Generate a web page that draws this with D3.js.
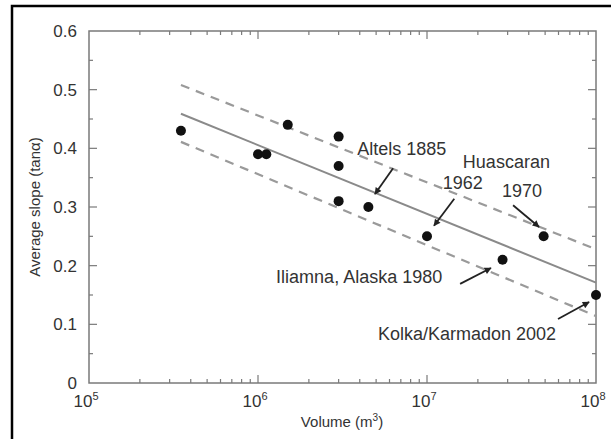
<!DOCTYPE html>
<html>
<head>
<meta charset="utf-8">
<script src="https://cdn.jsdelivr.net/npm/d3@7"></script>
<style>
  body { margin: 0; background: #fff; }
  svg { display: block; font-family: "Liberation Sans", Arial, sans-serif; }
</style>
</head>
<body>
<div id="chart"></div>
<script>
// observed events
const volumes = [3.5e5, 1.0e6, 1.12e6, 1.5e6, 3.0e6, 3.0e6, 3.0e6, 4.5e6, 1.0e7, 2.8e7, 4.9e7, 1.0e8];
const slopes  = [0.43, 0.39, 0.39, 0.44, 0.42, 0.37, 0.31, 0.30, 0.25, 0.21, 0.25, 0.15];

// regression line and its band
const fitVolumes = [3.5e5, 1.0e8];
const fitMid   = [0.459, 0.171];
const fitUpper = [0.508, 0.228];
const fitLower = [0.411, 0.114];

const yTicks = [0, 0.1, 0.2, 0.3, 0.4, 0.5, 0.6];
const xDecades = [5, 6, 7, 8];

// annotations: label text, label anchor, arrow start, arrow end (data units)
const labels = [
  { text: "Altels 1885",          lx: 3.86e6, ly: 0.399 },
  { text: "Huascaran",            lx: 1.63e7, ly: 0.378 },
  { text: "1962",                 lx: 1.24e7, ly: 0.341 },
  { text: "1970",                 lx: 2.78e7, ly: 0.327 },
  { text: "Iliamna, Alaska 1980", lx: 1.28e6, ly: 0.181 },
  { text: "Kolka/Karmadon 2002",  lx: 5.13e6, ly: 0.0835 }
];
const arrows = [
  { x1: 6.30e6, y1: 0.366, x2: 4.92e6, y2: 0.322 },
  { x1: 1.45e7, y1: 0.314, x2: 1.10e7, y2: 0.268 },
  { x1: 3.23e7, y1: 0.303, x2: 4.60e7, y2: 0.266 },
  { x1: 1.57e7, y1: 0.169, x2: 2.39e7, y2: 0.196 },
  { x1: 5.96e7, y1: 0.109, x2: 9.10e7, y2: 0.138 }
];

const W = 611, H = 439;
const svg = d3.select("#chart").append("svg").attr("width", W).attr("height", H);

// outer frame (cropped figure border)
svg.append("path")
  .attr("d", "M12,445 L12,6 L620,6")
  .attr("fill", "none").attr("stroke", "#000").attr("stroke-width", 2.5);

const x = d3.scaleLog().domain([1e5, 1e8]).range([89, 596]);
const y = d3.scaleLinear().domain([0, 0.6]).range([383, 31]);

const axisColor = "#7a7a7a";
const textColor = "#333";

// frame of plot
svg.append("rect")
  .attr("x", x.range()[0]).attr("y", y.range()[1])
  .attr("width", x.range()[1] - x.range()[0])
  .attr("height", y.range()[0] - y.range()[1])
  .attr("fill", "none").attr("stroke", axisColor).attr("stroke-width", 1.5);

// y ticks (inward, left and right) with minor ticks at 0.05
const yMinor = d3.range(0.05, 0.6, 0.1);
const g = svg.append("g").attr("stroke", axisColor).attr("stroke-width", 1.2);
yTicks.slice(1, -1).forEach(t => {
  g.append("line").attr("x1", x(1e5)).attr("x2", x(1e5) + 8).attr("y1", y(t)).attr("y2", y(t));
  g.append("line").attr("x1", x(1e8)).attr("x2", x(1e8) - 8).attr("y1", y(t)).attr("y2", y(t));
});
yMinor.forEach(t => {
  g.append("line").attr("x1", x(1e5)).attr("x2", x(1e5) + 4).attr("y1", y(t)).attr("y2", y(t));
  g.append("line").attr("x1", x(1e8)).attr("x2", x(1e8) - 4).attr("y1", y(t)).attr("y2", y(t));
});

// x ticks, log minor ticks (bottom and top)
x.ticks().forEach(v => {
  const major = Math.abs(Math.log10(v) - Math.round(Math.log10(v))) < 1e-9;
  if (v <= 1e5 || v >= 1e8) return;
  const len = major ? 8 : 4;
  g.append("line").attr("x1", x(v)).attr("x2", x(v)).attr("y1", y(0)).attr("y2", y(0) - len);
  g.append("line").attr("x1", x(v)).attr("x2", x(v)).attr("y1", y(0.6)).attr("y2", y(0.6) + len);
});

// y tick labels
svg.append("g").selectAll("text").data(yTicks).join("text")
  .attr("x", 77).attr("y", d => y(d)).attr("dy", "0.35em")
  .attr("text-anchor", "end").attr("font-size", 17).attr("fill", textColor)
  .text(d => d === 0 ? "0" : d.toFixed(1));

// x tick labels 10^n
const xl = svg.append("g").selectAll("text").data(xDecades).join("text")
  .attr("x", d => x(Math.pow(10, d)) - 3).attr("y", 407)
  .attr("text-anchor", "middle").attr("font-size", 17).attr("fill", textColor);
xl.append("tspan").text("10");
xl.append("tspan").attr("dy", -7).attr("font-size", 11).text(d => d);

// axis titles
const xt = svg.append("text").attr("x", 342).attr("y", 427)
  .attr("text-anchor", "middle").attr("font-size", 15).attr("fill", textColor);
xt.append("tspan").text("Volume (m");
xt.append("tspan").attr("dy", -6).attr("font-size", 10).text("3");
xt.append("tspan").attr("dy", 6).text(")");

svg.append("text")
  .attr("transform", `translate(40,${(y(0) + y(0.6)) / 2}) rotate(-90)`)
  .attr("text-anchor", "middle").attr("font-size", 15).attr("fill", textColor)
  .text("Average slope (tan\u03b1)");

// fit lines
const line = d3.line().x(d => x(d[0])).y(d => y(d[1]));
const fitPath = arr => fitVolumes.map((v, i) => [v, arr[i]]);
svg.append("path").attr("d", line(fitPath(fitUpper)))
  .attr("fill", "none").attr("stroke", "#9a9a9a").attr("stroke-width", 2.2).attr("stroke-dasharray", "9,7");
svg.append("path").attr("d", line(fitPath(fitLower)))
  .attr("fill", "none").attr("stroke", "#9a9a9a").attr("stroke-width", 2.2).attr("stroke-dasharray", "9,7");
svg.append("path").attr("d", line(fitPath(fitMid)))
  .attr("fill", "none").attr("stroke", "#8a8a8a").attr("stroke-width", 2);

// points
svg.append("g").selectAll("circle").data(volumes).join("circle")
  .attr("cx", d => x(d)).attr("cy", (d, i) => y(slopes[i])).attr("r", 5)
  .attr("fill", "#111");

// arrows
svg.append("defs").append("marker")
  .attr("id", "head").attr("viewBox", "0 0 10 10").attr("refX", 9).attr("refY", 5)
  .attr("markerWidth", 9).attr("markerHeight", 7).attr("markerUnits", "userSpaceOnUse")
  .attr("orient", "auto")
  .append("path").attr("d", "M0,0 L10,5 L0,10 Z").attr("fill", "#222");

svg.append("g").selectAll("line").data(arrows).join("line")
  .attr("x1", d => x(d.x1)).attr("y1", d => y(d.y1))
  .attr("x2", d => x(d.x2)).attr("y2", d => y(d.y2))
  .attr("stroke", "#222").attr("stroke-width", 1.8)
  .attr("marker-end", "url(#head)");

// labels
svg.append("g").selectAll("text").data(labels).join("text")
  .attr("x", d => x(d.lx)).attr("y", d => y(d.ly)).attr("dy", "0.35em")
  .attr("font-size", 18).attr("fill", textColor)
  .text(d => d.text);
</script>
</body>
</html>
